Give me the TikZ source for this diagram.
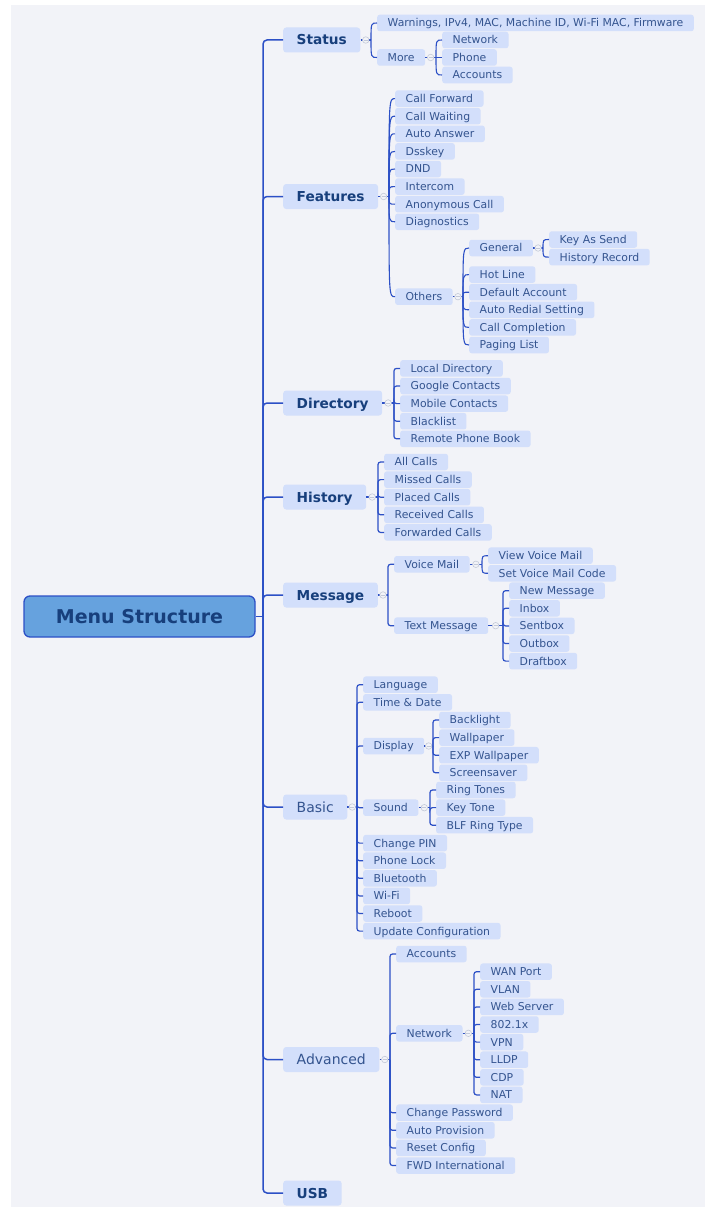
\documentclass[tikz,border=0pt]{standalone}
\usepackage{fontspec}
\setmainfont{DejaVu Sans}
\usetikzlibrary{positioning}

\definecolor{bgc}{HTML}{F2F3F8}
\definecolor{boxc}{HTML}{D3DFFB}
\definecolor{linec}{HTML}{2C50C6}
\definecolor{leaftxt}{HTML}{34548F}
\definecolor{maintxt}{HTML}{173F7C}
\definecolor{rootc}{HTML}{66A2DE}
\definecolor{foldc}{HTML}{C3C9D8}

\begin{document}
\begin{tikzpicture}[x=1pt, y=-1pt,
    root/.style={draw=linec, line width=1.3pt, fill=rootc, rounded corners=6pt,
      minimum width=231pt, minimum height=41pt, text=maintxt,
      font=\bfseries\fontsize{19}{22}\selectfont},
    topic/.style={fill=boxc, rounded corners=3pt, anchor=west, text=maintxt,
      inner xsep=13.5pt, inner ysep=0pt, minimum height=25pt,
      text height=11pt, text depth=1pt, font=\bfseries\fontsize{13.7}{16}\selectfont},
    plaintopic/.style={topic, text=leaftxt, font=\fontsize{14}{16}\selectfont},
    leaf/.style={fill=boxc, rounded corners=2.5pt, anchor=west, text=leaftxt,
      inner xsep=10.5pt, inner ysep=0pt, minimum height=16.5pt,
      text height=9.3pt, text depth=1.5pt, font=\fontsize{10.85}{12}\selectfont},
    link/.style={draw=linec, line width=1.2pt},
    elbow/.style={link, rounded corners=2.5pt},
    curve/.style={link, line width=1.1pt},
    fold/.style={circle, draw=foldc, fill=bgc, line width=.6pt, minimum size=6.5pt, inner sep=0pt,
      path picture={\draw[foldc, line width=.6pt]
        ([xshift=-2pt]path picture bounding box.center) -- ([xshift=2pt]path picture bounding box.center);}}
  ]
  \useasboundingbox (0,0) rectangle (705,1207);
  \fill[bgc] (11,5) rectangle (705,1207);

  \node[root] (menu) at (139.5,616.5) {Menu Structure};

  \node[topic] (status) at (283,40) {Status};
  \node[topic] (features) at (283,196.5) {Features};
  \node[topic] (directory) at (283,403) {Directory};
  \node[topic] (history) at (283,497) {History};
  \node[topic] (message) at (283,595) {Message};
  \node[plaintopic] (basic) at (283,807) {Basic};
  \node[plaintopic] (advanced) at (283,1059.5) {Advanced};
  \node[topic] (usb) at (283,1193) {USB};

  \node[leaf] (warn) at (377,23) {Warnings, IPv4, MAC, Machine ID, Wi-Fi MAC, Firmware};
  \node[leaf] (more) at (377,57.5) {More};
  \node[leaf] (network) at (442,40) {Network};
  \node[leaf] (phone) at (442,57.5) {Phone};
  \node[leaf] (accounts) at (442,75) {Accounts};

  \node[leaf] (callfwd) at (395,98.6) {Call Forward};
  \node[leaf] (callwait) at (395,116.2) {Call Waiting};
  \node[leaf] (autoans) at (395,133.8) {Auto Answer};
  \node[leaf] (dsskey) at (395,151.4) {Dsskey};
  \node[leaf] (dnd) at (395,169) {DND};
  \node[leaf] (intercom) at (395,186.6) {Intercom};
  \node[leaf] (anoncall) at (395,204.2) {Anonymous Call};
  \node[leaf] (diag) at (395,221.8) {Diagnostics};
  \node[leaf] (others) at (395,296.7) {Others};
  \node[leaf] (general) at (469,248) {General};
  \node[leaf] (hotline) at (469,274.6) {Hot Line};
  \node[leaf] (defacct) at (469,292.2) {Default Account};
  \node[leaf] (autoredial) at (469,309.8) {Auto Redial Setting};
  \node[leaf] (callcompl) at (469,327.4) {Call Completion};
  \node[leaf] (paging) at (469,345) {Paging List};
  \node[leaf] (keysend) at (549,239.5) {Key As Send};
  \node[leaf] (histrec) at (549,257.1) {History Record};

  \node[leaf] (localdir) at (400,368.4) {Local Directory};
  \node[leaf] (google) at (400,386) {Google Contacts};
  \node[leaf] (mobile) at (400,403.6) {Mobile Contacts};
  \node[leaf] (blacklist) at (400,421.2) {Blacklist};
  \node[leaf] (remotepb) at (400,438.8) {Remote Phone Book};

  \node[leaf] (allcalls) at (384,462) {All Calls};
  \node[leaf] (missed) at (384,479.6) {Missed Calls};
  \node[leaf] (placed) at (384,497.2) {Placed Calls};
  \node[leaf] (received) at (384,514.8) {Received Calls};
  \node[leaf] (forwarded) at (384,532.4) {Forwarded Calls};

  \node[leaf] (voicemail) at (394,564.3) {Voice Mail};
  \node[leaf] (textmsg) at (394,625.7) {Text Message};
  \node[leaf] (viewvm) at (488,555.7) {View Voice Mail};
  \node[leaf] (setvm) at (488,573.3) {Set Voice Mail Code};
  \node[leaf] (newmsg) at (509,590.7) {New Message};
  \node[leaf] (inbox) at (509,608.3) {Inbox};
  \node[leaf] (sentbox) at (509,625.9) {Sentbox};
  \node[leaf] (outbox) at (509,643.5) {Outbox};
  \node[leaf] (draftbox) at (509,661.1) {Draftbox};

  \node[leaf] (language) at (363,684.7) {Language};
  \node[leaf] (timedate) at (363,702.3) {Time \& Date};
  \node[leaf] (display) at (363,746) {Display};
  \node[leaf] (sound) at (363,807.7) {Sound};
  \node[leaf] (changepin) at (363,843.1) {Change PIN};
  \node[leaf] (phonelock) at (363,860.7) {Phone Lock};
  \node[leaf] (bluetooth) at (363,878.3) {Bluetooth};
  \node[leaf] (wifi) at (363,895.9) {Wi-Fi};
  \node[leaf] (reboot) at (363,913.5) {Reboot};
  \node[leaf] (update) at (363,931.1) {Update Configuration};
  \node[leaf] (backlight) at (439,720) {Backlight};
  \node[leaf] (wallpaper) at (439,737.6) {Wallpaper};
  \node[leaf] (expwall) at (439,755.2) {EXP Wallpaper};
  \node[leaf] (screensaver) at (439,772.8) {Screensaver};
  \node[leaf] (ringtones) at (436,790) {Ring Tones};
  \node[leaf] (keytone) at (436,807.6) {Key Tone};
  \node[leaf] (blfring) at (436,825.2) {BLF Ring Type};

  \node[leaf] (advacc) at (396,954) {Accounts};
  \node[leaf] (advnet) at (396,1033.3) {Network};
  \node[leaf] (changepw) at (396,1112.7) {Change Password};
  \node[leaf] (autoprov) at (396,1130.3) {Auto Provision};
  \node[leaf] (resetcfg) at (396,1147.9) {Reset Config};
  \node[leaf] (fwdintl) at (396,1165.5) {FWD International};
  \node[leaf] (wan) at (480,971.7) {WAN Port};
  \node[leaf] (vlan) at (480,989.3) {VLAN};
  \node[leaf] (webserver) at (480,1006.9) {Web Server};
  \node[leaf] (dotx) at (480,1024.5) {802.1x};
  \node[leaf] (vpn) at (480,1042.1) {VPN};
  \node[leaf] (lldp) at (480,1059.7) {LLDP};
  \node[leaf] (cdp) at (480,1077.3) {CDP};
  \node[leaf] (nat) at (480,1094.9) {NAT};

  \coordinate (rootJ) at (263,616.5);
  \coordinate (statusJ) at (371,40);
  \coordinate (moreJ) at (436,57.5);
  \coordinate (featJ) at (389,196.5);
  \coordinate (othersJ) at (463,296.7);
  \coordinate (generalJ) at (543,248);
  \coordinate (dirJ) at (394,403);
  \coordinate (histJ) at (378,497);
  \coordinate (msgJ) at (388,595);
  \coordinate (vmJ) at (482,564.3);
  \coordinate (tmJ) at (503,625.7);
  \coordinate (basicJ) at (357,807);
  \coordinate (dispJ) at (433,746);
  \coordinate (soundJ) at (430,807.7);
  \coordinate (advJ) at (390,1059.5);
  \coordinate (netJ) at (474,1033.3);

  \draw[link, line width=1.5pt] (menu.east) -- (rootJ);
  \foreach \c in {status,features,directory,history,message,basic,advanced,usb}
    \draw[elbow, line width=1.5pt, rounded corners=4pt] (rootJ) |- (\c.west);

  \foreach \c in {warn,more}
    \draw[curve] (statusJ) .. controls (statusJ |- \c.west) .. (\c.west);
  \draw[link] (status.east) -- (statusJ) node[fold, midway] {};
  \foreach \c in {network,phone,accounts}
    \draw[curve] (moreJ) .. controls (moreJ |- \c.west) .. (\c.west);
  \draw[link] (more.east) -- (moreJ) node[fold, midway] {};

  \foreach \c in {callfwd,callwait,autoans,dsskey,dnd,intercom,anoncall,diag,others}
    \draw[curve] (featJ) .. controls (featJ |- \c.west) .. (\c.west);
  \draw[link] (features.east) -- (featJ) node[fold, midway] {};
  \foreach \c in {general,hotline,defacct,autoredial,callcompl,paging}
    \draw[curve] (othersJ) .. controls (othersJ |- \c.west) .. (\c.west);
  \draw[link] (others.east) -- (othersJ) node[fold, midway] {};
  \foreach \c in {keysend,histrec}
    \draw[curve] (generalJ) .. controls (generalJ |- \c.west) .. (\c.west);
  \draw[link] (general.east) -- (generalJ) node[fold, midway] {};

  \foreach \c in {localdir,google,mobile,blacklist,remotepb}
    \draw[elbow] (dirJ) |- (\c.west);
  \draw[link] (directory.east) -- (dirJ) node[fold, midway] {};

  \foreach \c in {allcalls,missed,placed,received,forwarded}
    \draw[elbow] (histJ) |- (\c.west);
  \draw[link] (history.east) -- (histJ) node[fold, midway] {};

  \foreach \c in {voicemail,textmsg}
    \draw[elbow] (msgJ) |- (\c.west);
  \draw[link] (message.east) -- (msgJ) node[fold, midway] {};
  \foreach \c in {viewvm,setvm}
    \draw[curve] (vmJ) .. controls (vmJ |- \c.west) .. (\c.west);
  \draw[link] (voicemail.east) -- (vmJ) node[fold, midway] {};
  \foreach \c in {newmsg,inbox,sentbox,outbox,draftbox}
    \draw[elbow] (tmJ) |- (\c.west);
  \draw[link] (textmsg.east) -- (tmJ) node[fold, midway] {};

  \foreach \c in {language,timedate,display,sound,changepin,phonelock,bluetooth,wifi,reboot,update}
    \draw[elbow] (basicJ) |- (\c.west);
  \draw[link] (basic.east) -- (basicJ) node[fold, midway] {};
  \foreach \c in {backlight,wallpaper,expwall,screensaver}
    \draw[elbow] (dispJ) |- (\c.west);
  \draw[link] (display.east) -- (dispJ) node[fold, midway] {};
  \foreach \c in {ringtones,keytone,blfring}
    \draw[elbow] (soundJ) |- (\c.west);
  \draw[link] (sound.east) -- (soundJ) node[fold, midway] {};

  \foreach \c in {advacc,advnet,changepw,autoprov,resetcfg,fwdintl}
    \draw[elbow] (advJ) |- (\c.west);
  \draw[link] (advanced.east) -- (advJ) node[fold, midway] {};
  \foreach \c in {wan,vlan,webserver,dotx,vpn,lldp,cdp,nat}
    \draw[elbow] (netJ) |- (\c.west);
  \draw[link] (advnet.east) -- (netJ) node[fold, midway] {};
\end{tikzpicture}
\end{document}
